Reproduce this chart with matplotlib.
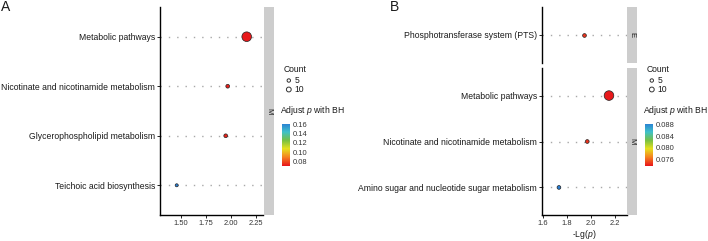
import matplotlib
matplotlib.use('Agg')
import matplotlib.pyplot as plt
import numpy as np
from matplotlib.colors import LinearSegmentedColormap, Normalize
from matplotlib.cm import ScalarMappable

plt.rcParams['font.family'] = ['Liberation Sans', 'DejaVu Sans']
plt.rcParams['mathtext.fontset'] = 'custom'
plt.rcParams['mathtext.rm'] = 'Liberation Sans'
plt.rcParams['mathtext.it'] = 'Liberation Sans:italic'

# ---------------- data ----------------
a_terms = ['Metabolic pathways', 'Nicotinate and nicotinamide metabolism',
           'Glycerophospholipid metabolism', 'Teichoic acid biosynthesis']
a_neglogp = [2.16, 1.97, 1.95, 1.46]
a_count = [40, 6, 6, 4]
a_padj = [0.0712, 0.0725, 0.0730, 0.162]
a_class = ['M', 'M', 'M', 'M']
a_xticks = [1.50, 1.75, 2.00, 2.25]
a_cbar_ticks = [0.08, 0.10, 0.12, 0.14, 0.16]

b_terms = ['Phosphotransferase system (PTS)', 'Metabolic pathways',
           'Nicotinate and nicotinamide metabolism',
           'Amino sugar and nucleotide sugar metabolism']
b_neglogp = [1.94, 2.15, 1.97, 1.735]
b_count = [6, 40, 6, 6]
b_padj = [0.0745, 0.0738, 0.0745, 0.0885]
b_class = ['E', 'M', 'M', 'M']
b_xticks = [1.6, 1.8, 2.0, 2.2]
b_cbar_ticks = [0.076, 0.080, 0.084, 0.088]

legend_counts = [5, 10]

# ---------------- style ----------------
W, H = 708, 241
fig = plt.figure(figsize=(W / 100, H / 100), dpi=100)
cmap = LinearSegmentedColormap.from_list(
    'rb', ['#e8191b', '#f5821f', '#e5e01e', '#77c043', '#3fc1c9', '#2a7fd4'])
TXT = '#1a1a1a'
FS = 6.2


def size_of(c):
    return 1.2 * np.asarray(c, dtype=float)


def ax_px(x0, y0, x1, y1):
    return fig.add_axes([x0 / W, 1 - y1 / H, (x1 - x0) / W, (y1 - y0) / H])


def style_main(ax, bottom=True):
    for s in ['top', 'right']:
        ax.spines[s].set_visible(False)
    ax.spines['left'].set_linewidth(1.0)
    ax.spines['bottom'].set_linewidth(1.0)
    ax.spines['bottom'].set_visible(bottom)
    ax.tick_params(axis='y', length=2, width=0.6, labelsize=FS, colors='black',
                   labelcolor=TXT, pad=1.5)
    if bottom:
        ax.tick_params(axis='x', length=2, width=0.6, labelsize=5.4,
                       labelcolor='#333333', pad=1.5)
    else:
        ax.tick_params(axis='x', bottom=False, labelbottom=False)
    ax.patch.set_alpha(0)


def draw_panel(ax, terms, xs, counts, padj, norm, xlim):
    n = len(terms)
    ypos = np.arange(n)[::-1]
    ax.set_xlim(*xlim)
    ax.set_ylim(-0.6, n - 0.4)
    for y in ypos:
        ax.plot(xlim, [y, y], color='#a8a8a8', lw=1.0,
                linestyle=(0, (1, 5)), zorder=1)
    ax.scatter(xs, ypos, s=size_of(counts), c=padj, cmap=cmap, norm=norm,
               edgecolors='#222222', linewidths=0.5, zorder=3)
    ax.set_yticks(ypos)
    ax.set_yticklabels(terms)


def strip(x0, y0, x1, y1, label):
    s = ax_px(x0, y0, x1, y1)
    s.set_facecolor('#cdcdcd')
    for sp in s.spines.values():
        sp.set_visible(False)
    s.set_xticks([])
    s.set_yticks([])
    s.text(0.5, 0.5, label, rotation=-90, ha='center', va='center',
           fontsize=5.6, color=TXT, transform=s.transAxes)


# ---------------- panel A ----------------
normA = Normalize(vmin=min(a_padj), vmax=max(a_padj))
axA = ax_px(160, 7, 263, 215)
style_main(axA)
draw_panel(axA, a_terms, a_neglogp, a_count, a_padj, normA, (1.293, 2.323))
axA.set_xticks(a_xticks)
axA.set_xticklabels(['%.2f' % v for v in a_xticks])
strip(263.5, 7, 273.5, 215, a_class[0])

# ---------------- panel B ----------------
normB = Normalize(vmin=min(b_padj), vmax=max(b_padj))
xlimB = (1.592, 2.297)
top_idx = [i for i, c in enumerate(b_class) if c == 'E']
bot_idx = [i for i, c in enumerate(b_class) if c == 'M']

axBt = ax_px(541.7, 7, 626.7, 63)
style_main(axBt, bottom=False)
draw_panel(axBt, [b_terms[i] for i in top_idx], [b_neglogp[i] for i in top_idx],
           [b_count[i] for i in top_idx], [b_padj[i] for i in top_idx], normB, xlimB)
strip(627.2, 7, 637.2, 63, 'E')

axBb = ax_px(541.7, 68, 626.7, 215)
style_main(axBb)
draw_panel(axBb, [b_terms[i] for i in bot_idx], [b_neglogp[i] for i in bot_idx],
           [b_count[i] for i in bot_idx], [b_padj[i] for i in bot_idx], normB, xlimB)
axBb.set_xticks(b_xticks)
axBb.set_xticklabels(['%.1f' % v for v in b_xticks])
axBb.set_xlabel(r'-Lg($\mathit{p}$)', fontsize=FS, color=TXT, labelpad=0.5)
strip(627.2, 68, 637.2, 215, 'M')

# ---------------- overlay (panel letters, legends) ----------------
ov = ax_px(0, 0, W, H)
ov.set_xlim(0, W)
ov.set_ylim(H, 0)
ov.axis('off')
ov.patch.set_alpha(0)

ov.text(1, 7, 'A', fontsize=10, color=TXT, ha='left', va='center')
ov.text(390, 7, 'B', fontsize=10, color=TXT, ha='left', va='center')


def legends(x0, norm, ticks, fmt):
    ov.text(x0 + 1, 69.5, 'Count', fontsize=FS, color=TXT, ha='left', va='center')
    ly = [80.5, 89.5]
    ov.scatter([x0 + 6.5] * len(legend_counts), ly, s=size_of(legend_counts),
               facecolors='none', edgecolors='#333333', linewidths=0.7)
    for yy, c in zip(ly, legend_counts):
        ov.text(x0 + 12, yy, str(c), fontsize=FS, color=TXT, ha='left', va='center')
    ov.text(x0 - 2, 110.5, r'$\mathrm{Adjust}\ \mathit{p}\ \mathrm{with\ BH}$',
            fontsize=FS, color=TXT, ha='left', va='center')
    cax = ax_px(x0, 123.5, x0 + 7.5, 165.5)
    cb = fig.colorbar(ScalarMappable(norm=norm, cmap=cmap), cax=cax)
    cb.outline.set_visible(False)
    cb.set_ticks(ticks)
    cb.set_ticklabels([fmt % t for t in ticks])
    cax.tick_params(length=0, labelsize=5.4, labelcolor='#333333', pad=2)


legends(282.3, normA, a_cbar_ticks, '%.2f')
legends(645.3, normB, b_cbar_ticks, '%.3f')

fig.savefig('out.png', dpi=100)
